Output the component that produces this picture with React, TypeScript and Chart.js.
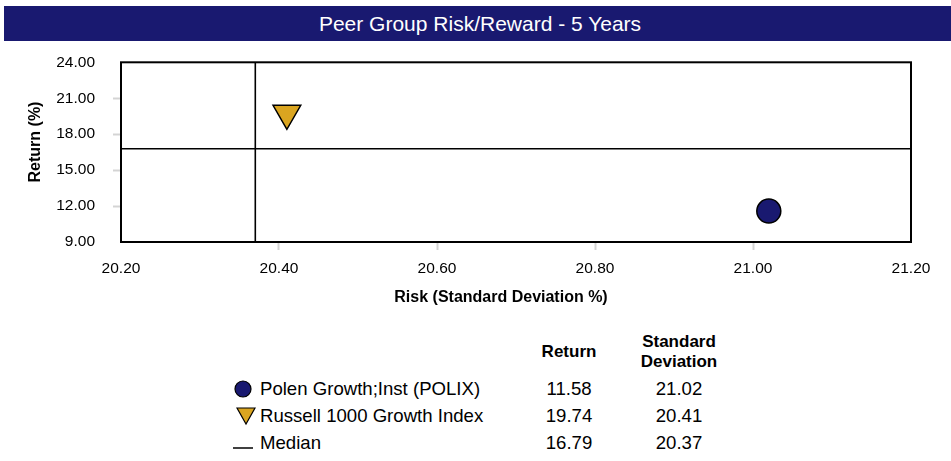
import React, { useEffect, useRef } from "react";
import { Chart, registerables } from "chart.js";

Chart.register(...registerables);

const chartTitle = "Peer Group Risk/Reward - 5 Years";
const xAxisTitle = "Risk (Standard Deviation %)";
const yAxisTitle = "Return (%)";
const seriesNames = ["Polen Growth;Inst (POLIX)", "Russell 1000 Growth Index"];
const seriesReturns = [11.58, 19.74];
const seriesStdDevs = [21.02, 20.41];
const medianLabel = "Median";
const medianReturn = 16.79;
const medianStdDev = 20.37;
const xTicks = [20.2, 20.4, 20.6, 20.8, 21.0, 21.2];
const yTicks = [9, 12, 15, 18, 21, 24];

const NAVY = "#191970";
const GOLD = "#DAA520";
const FONT = "'Liberation Sans', Arial, Helvetica, sans-serif";

const borderPlugin = {
  id: "plotBorder",
  beforeDatasetsDraw(chart: any) {
    const { ctx, chartArea } = chart;
    ctx.save();
    ctx.strokeStyle = "#000";
    ctx.lineWidth = 2;
    ctx.strokeRect(chartArea.left, chartArea.top, chartArea.right - chartArea.left, chartArea.bottom - chartArea.top);
    ctx.restore();
  },
};

function RiskChart() {
  const ref = useRef<HTMLCanvasElement | null>(null);
  useEffect(() => {
    if (!ref.current) return;
    const xMin = xTicks[0];
    const xMax = xTicks[xTicks.length - 1];
    const yMin = yTicks[0];
    const yMax = yTicks[yTicks.length - 1];
    const tickColor = (ctx: any, n: number) =>
      ctx.index === 0 || ctx.index === n - 1 ? "rgba(0,0,0,0)" : "#d4d4d4";
    const chart = new Chart(ref.current, {
      type: "scatter",
      data: {
        datasets: [
          {
            label: seriesNames[0],
            data: [{ x: seriesStdDevs[0], y: seriesReturns[0] }],
            pointStyle: "circle",
            pointRadius: 12,
            backgroundColor: NAVY,
            borderColor: "#000",
            borderWidth: 1.5,
          },
          {
            label: seriesNames[1],
            data: [{ x: seriesStdDevs[1], y: seriesReturns[1] }],
            pointStyle: "triangle",
            rotation: 180,
            pointRadius: 16,
            backgroundColor: GOLD,
            borderColor: "#000",
            borderWidth: 1.5,
          },
          {
            label: medianLabel,
            data: [
              { x: medianStdDev, y: yMin },
              { x: medianStdDev, y: yMax },
            ],
            showLine: true,
            pointRadius: 0,
            borderColor: "#000",
            borderWidth: 1.6,
          },
          {
            label: medianLabel + " ",
            data: [
              { x: xMin, y: medianReturn },
              { x: xMax, y: medianReturn },
            ],
            showLine: true,
            pointRadius: 0,
            borderColor: "#000",
            borderWidth: 1.6,
          },
        ],
      } as any,
      options: {
        animation: false,
        responsive: false,
        devicePixelRatio: 1,
        layout: { padding: { left: 0, right: 40, top: 10, bottom: 0 } },
        plugins: { legend: { display: false }, tooltip: { enabled: false } },
        scales: {
          x: {
            type: "linear",
            min: xMin,
            max: xMax,
            afterBuildTicks: (s: any) => {
              s.ticks = xTicks.map((v) => ({ value: v }));
            },
            afterFit: (s: any) => {
              s.height = 63;
            },
            ticks: {
              callback: (v: any) => Number(v).toFixed(2),
              font: { family: FONT, size: 15.5 },
              color: "#000",
              padding: 9,
              maxRotation: 0,
            },
            grid: {
              drawOnChartArea: false,
              drawTicks: true,
              tickLength: 8,
              tickWidth: 2,
              color: (c: any) => tickColor(c, xTicks.length),
            },
            border: { display: false },
          },
          y: {
            type: "linear",
            min: yMin,
            max: yMax,
            afterBuildTicks: (s: any) => {
              s.ticks = yTicks.map((v) => ({ value: v }));
            },
            afterFit: (s: any) => {
              s.width = 121;
            },
            ticks: {
              callback: (v: any) => Number(v).toFixed(2),
              font: { family: FONT, size: 15.5 },
              color: "#000",
              padding: 18,
            },
            grid: {
              drawOnChartArea: false,
              drawTicks: true,
              tickLength: 8,
              tickWidth: 2,
              color: (c: any) => tickColor(c, yTicks.length),
            },
            border: { display: false },
          },
        },
      } as any,
      plugins: [borderPlugin],
    });
    return () => chart.destroy();
  }, []);
  return <canvas ref={ref} width={951} height={270} style={{ position: "absolute", left: 0, top: 35, width: 951, height: 270 }} />;
}

const abs = (left: number, top: number, extra: any = {}) => ({ position: "absolute" as const, left, top, ...extra });

export default function App() {
  const rowY = [389, 416, 443];
  const retX = 569;
  const sdX = 679;
  const rowText = { fontFamily: FONT, fontSize: 18.6, lineHeight: "20px", color: "#000", whiteSpace: "nowrap" as const };
  const valStyle = (cx: number, cy: number) => abs(cx - 50, cy - 10, { ...rowText, width: 100, textAlign: "center" });
  const axisTitle = { fontFamily: FONT, fontWeight: "bold", fontSize: 16, lineHeight: "20px", color: "#000", whiteSpace: "nowrap" as const, textAlign: "center" as const };
  return (
    <div style={{ position: "absolute", left: 0, top: 0, width: 951, height: 461, background: "#fff", overflow: "hidden" }}>
      <div
        style={abs(4, 6, {
          width: 947,
          height: 35,
          paddingLeft: 5,
          boxSizing: "border-box",
          background: NAVY,
          color: "#fff",
          fontFamily: FONT,
          fontSize: 21,
          lineHeight: "35px",
          textAlign: "center",
        })}
      >
        {chartTitle}
      </div>
      <RiskChart />
      <div style={abs(501 - 150, 287, { ...axisTitle, width: 300 })}>{xAxisTitle}</div>
      <div style={abs(35 - 60, 141.5 - 10, { ...axisTitle, width: 120, transform: "rotate(-90deg)" })}>{yAxisTitle}</div>
      <div style={abs(sdX - 60, 332, { width: 120, textAlign: "center", fontFamily: FONT, fontWeight: "bold", fontSize: 17, lineHeight: "20px" })}>
        Standard
        <br />
        Deviation
      </div>
      <div style={abs(retX - 50, 342, { width: 100, textAlign: "center", fontFamily: FONT, fontWeight: "bold", fontSize: 17, lineHeight: "20px" })}>
        Return
      </div>
      <svg style={abs(233, 379)} width={20} height={20}>
        <circle cx={10} cy={10} r={8} fill={NAVY} stroke="#000" strokeWidth={1.2} />
      </svg>
      <svg style={abs(236, 406)} width={20} height={20}>
        <polygon points="1,2 19,2 10,18" fill={GOLD} stroke="#000" strokeWidth={1.2} />
      </svg>
      <svg style={abs(232, 438)} width={22} height={12}>
        <line x1={1} y1={10} x2={21} y2={10} stroke="#000" strokeWidth={1.5} />
      </svg>
      <div style={abs(260, rowY[0] - 10, rowText)}>{seriesNames[0]}</div>
      <div style={abs(260, rowY[1] - 10, rowText)}>{seriesNames[1]}</div>
      <div style={abs(260, rowY[2] - 10, rowText)}>{medianLabel}</div>
      <div style={valStyle(retX, rowY[0])}>{seriesReturns[0].toFixed(2)}</div>
      <div style={valStyle(retX, rowY[1])}>{seriesReturns[1].toFixed(2)}</div>
      <div style={valStyle(retX, rowY[2])}>{medianReturn.toFixed(2)}</div>
      <div style={valStyle(sdX, rowY[0])}>{seriesStdDevs[0].toFixed(2)}</div>
      <div style={valStyle(sdX, rowY[1])}>{seriesStdDevs[1].toFixed(2)}</div>
      <div style={valStyle(sdX, rowY[2])}>{medianStdDev.toFixed(2)}</div>
    </div>
  );
}
